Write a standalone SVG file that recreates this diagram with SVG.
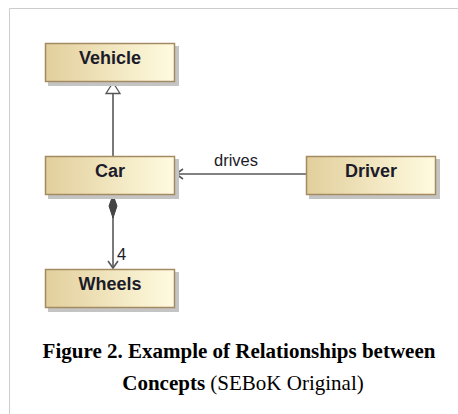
<svg xmlns="http://www.w3.org/2000/svg" width="458" height="414" viewBox="0 0 458 414">
<defs>
<linearGradient id="g" x1="0" y1="0" x2="1" y2="0">
<stop offset="0" stop-color="#e2cf9c"/>
<stop offset="1" stop-color="#fffbe0"/>
</linearGradient>
</defs>
<style>
.shadow{fill:#c4c4c4}
.box{fill:url(#g);stroke:#a48a62;stroke-width:1.5}
.lbl{font-family:"Liberation Sans",Arial,sans-serif;font-weight:bold;font-size:18px;fill:#1b1b2a;text-anchor:middle}
.edge{stroke:#595959;stroke-width:1.6;fill:none}
.etxt{font-family:"Liberation Sans",Arial,sans-serif;font-size:16.5px;fill:#1b1b2a}
.cap{font-family:"Liberation Serif","Times New Roman",serif;font-size:21px;fill:#000;text-anchor:middle}
</style>
<rect x="0" y="0" width="458" height="414" fill="#fff"/>
<path d="M9.5 414 V8.5 H458" fill="none" stroke="#cccccc" stroke-width="1"/>
<g id="connectors">
<line class="edge" x1="113" y1="93" x2="113" y2="156"/>
<path d="M113 82.5 L120 93.5 L106 93.5 Z" fill="#fff" stroke="#555" stroke-width="1.3"/>
<line class="edge" x1="176" y1="174" x2="306" y2="174"/>
<path class="edge" d="M183 169 L176 174 L183 179"/>
<text class="etxt" x="214" y="166">drives</text>
<line class="edge" x1="113" y1="217" x2="113" y2="268"/>
<path d="M113 195 L117 206 L113 218 L109 206 Z" fill="#444" stroke="#444" stroke-width="1"/>
<path class="edge" d="M108 261 L113 268 L118 261"/>
<text class="etxt" x="117" y="260">4</text>
</g>
<g id="vehicle">
<rect class="shadow" x="48" y="46" width="131" height="40"/>
<rect class="box" x="45.5" y="43.5" width="129" height="38"/>
<text class="lbl" x="110" y="63.5">Vehicle</text>
</g>
<g id="car">
<rect class="shadow" x="48" y="159" width="131" height="40"/>
<rect class="box" x="45.5" y="156.5" width="129" height="38"/>
<text class="lbl" x="110" y="176.5">Car</text>
</g>
<g id="driver">
<rect class="shadow" x="309" y="159" width="131" height="40"/>
<rect class="box" x="306.5" y="156.5" width="129" height="38"/>
<text class="lbl" x="371" y="176.5">Driver</text>
</g>
<g id="wheels">
<rect class="shadow" x="48" y="272" width="131" height="40"/>
<rect class="box" x="45.5" y="269.5" width="129" height="38"/>
<text class="lbl" x="110" y="289.5">Wheels</text>
</g>
<text class="cap" x="239" y="358" font-weight="bold">Figure 2. Example of Relationships between</text>
<text class="cap" x="243" y="390"><tspan font-weight="bold">Concepts</tspan> (SEBoK Original)</text>
</svg>
